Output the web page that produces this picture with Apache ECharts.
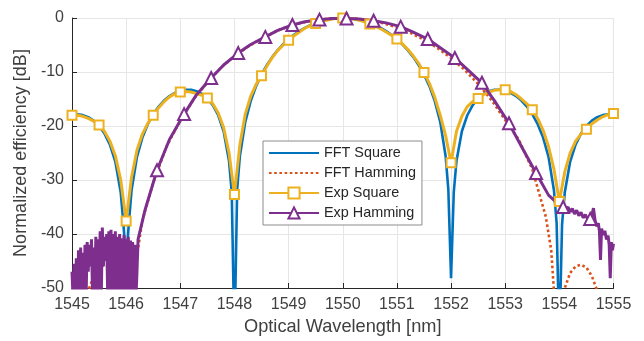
<!DOCTYPE html>
<html>
<head>
<meta charset="utf-8">
<script src="https://cdn.jsdelivr.net/npm/echarts@6/dist/echarts.min.js"></script>
<style>
  html, body { margin: 0; padding: 0; background: #fff; }
  #chart { width: 644px; height: 341px; }
</style>
</head>
<body>
<div id="chart"></div>
<script>
// values, [wavelength nm, dB]
const fftSquare = [
  [1545.0, -17.9], [1545.1, -17.83], [1545.2, -17.98], [1545.3, -18.37], [1545.4, -19.02],
  [1545.5, -20.0], [1545.6, -21.41], [1545.7, -23.45], [1545.8, -26.59], [1545.9, -32.3],
  [1545.95, -38.2], [1546.0, -45], [1546.05, -38], [1546.1, -31.9], [1546.2, -25.72],
  [1546.3, -22.15], [1546.4, -19.66], [1546.5, -17.81], [1546.6, -16.39], [1546.7, -15.3],
  [1546.8, -14.46], [1546.9, -13.86], [1547.0, -13.46], [1547.1, -13.28], [1547.2, -13.3],
  [1547.3, -13.55], [1547.4, -14.06], [1547.5, -14.89], [1547.6, -16.14], [1547.7, -18.01],
  [1547.8, -20.97], [1547.9, -26.5], [1547.95, -32.3], [1548.0, -60], [1548.05, -31.8],
  [1548.1, -25.6], [1548.2, -19.23], [1548.3, -15.39], [1548.4, -12.62], [1548.5, -10.45],
  [1548.6, -8.69], [1548.7, -7.2], [1548.8, -5.94], [1548.9, -4.86], [1549.0, -3.92],
  [1549.1, -3.11], [1549.2, -2.42], [1549.3, -1.83], [1549.4, -1.33], [1549.5, -0.91],
  [1549.6, -0.58], [1549.7, -0.32], [1549.8, -0.14], [1549.9, -0.04], [1550.0, 0],
  [1550.1, -0.04], [1550.2, -0.14], [1550.3, -0.32], [1550.4, -0.58], [1550.5, -0.91],
  [1550.6, -1.33], [1550.7, -1.83], [1550.8, -2.42], [1550.9, -3.11], [1551.0, -3.92],
  [1551.1, -4.86], [1551.2, -5.94], [1551.3, -7.2], [1551.4, -8.69], [1551.5, -10.45],
  [1551.6, -12.62], [1551.7, -15.39], [1551.8, -19.23], [1551.9, -25.6], [1551.95, -31.8],
  [1552.0, -48.2], [1552.05, -32.3], [1552.1, -26.5], [1552.2, -20.97], [1552.3, -18.01],
  [1552.4, -16.14], [1552.5, -14.89], [1552.6, -14.06], [1552.7, -13.55], [1552.8, -13.3],
  [1552.9, -13.28], [1553.0, -13.46], [1553.1, -13.86], [1553.2, -14.46], [1553.3, -15.3],
  [1553.4, -16.39], [1553.5, -17.81], [1553.6, -19.66], [1553.7, -22.15], [1553.8, -25.72],
  [1553.9, -31.9], [1553.95, -38], [1554.0, -60], [1554.05, -38.2], [1554.1, -32.3],
  [1554.2, -26.59], [1554.3, -23.45], [1554.4, -21.41], [1554.5, -20.0], [1554.6, -19.02],
  [1554.7, -18.37], [1554.8, -17.98], [1554.9, -17.83], [1555.0, -17.9]
];

const fftHamming = [
  [1545.0, -53], [1545.25, -60], [1545.3, -50.5], [1545.4, -47.8], [1545.5, -46.2],
  [1545.6, -45.7], [1545.7, -46.0], [1545.8, -47.2], [1545.9, -50.0], [1546.0, -70],
  [1546.1, -55], [1546.2, -44.0], [1546.3, -37.5], [1546.5, -30.5], [1546.75, -23.7],
  [1547.0, -19.0], [1547.25, -15.0], [1547.5, -11.9], [1547.75, -9.2], [1548.0, -7.1],
  [1548.25, -5.3], [1548.5, -3.85], [1548.75, -2.55], [1549.0, -1.5], [1549.25, -0.85],
  [1549.5, -0.4], [1549.75, -0.11], [1550.0, 0], [1550.25, -0.11], [1550.5, -0.43],
  [1550.75, -0.98], [1551.0, -1.75], [1551.25, -2.76], [1551.5, -4.03], [1551.75, -5.57],
  [1552.0, -7.41], [1552.25, -9.6], [1552.5, -12.2], [1552.75, -15.25], [1553.0, -18.9],
  [1553.25, -22.5], [1553.5, -28.0], [1553.75, -36.8], [1553.85, -43.0], [1553.9, -50.5],
  [1554.0, -70], [1554.1, -50.0], [1554.2, -47.2], [1554.3, -46.0], [1554.4, -45.7],
  [1554.5, -46.2], [1554.6, -47.8], [1554.7, -50.5], [1554.75, -60], [1555.0, -53]
];

const expSquare = [
  [1545.0, -18.0], [1545.1, -18.0], [1545.2, -18.2], [1545.3, -18.6], [1545.4, -19.1],
  [1545.5, -19.8], [1545.6, -21.0], [1545.7, -22.8], [1545.8, -25.5], [1545.9, -30.0],
  [1546.0, -37.6], [1546.1, -29.5], [1546.2, -24.5], [1546.3, -21.5], [1546.4, -19.5],
  [1546.5, -18.0], [1546.6, -16.6], [1546.7, -15.5], [1546.8, -14.6], [1546.9, -14.0],
  [1547.0, -13.7], [1547.1, -13.6], [1547.2, -13.7], [1547.3, -14.0], [1547.4, -14.3],
  [1547.5, -14.8], [1547.6, -15.9], [1547.7, -17.6], [1547.8, -20.3], [1547.9, -25.0],
  [1548.0, -32.7], [1548.1, -23.5], [1548.2, -17.8], [1548.3, -14.5], [1548.4, -12.3],
  [1548.5, -10.7], [1548.6, -8.9], [1548.7, -7.3], [1548.8, -6.0], [1548.9, -5.0],
  [1549.0, -4.1], [1549.1, -3.3], [1549.2, -2.6], [1549.3, -1.9], [1549.4, -1.4],
  [1549.5, -1.0], [1549.6, -0.7], [1549.7, -0.4], [1549.8, -0.2], [1549.9, -0.05],
  [1550.0, 0], [1550.1, -0.05], [1550.2, -0.2], [1550.3, -0.4], [1550.4, -0.7],
  [1550.5, -1.1], [1550.6, -1.5], [1550.7, -2.0], [1550.8, -2.6], [1550.9, -3.2],
  [1551.0, -3.9], [1551.1, -4.8], [1551.2, -5.8], [1551.3, -7.0], [1551.4, -8.4],
  [1551.5, -10.1], [1551.6, -12.1], [1551.7, -14.7], [1551.8, -18.0], [1551.9, -21.8],
  [1552.0, -26.8], [1552.1, -21.0], [1552.2, -18.2], [1552.3, -16.4], [1552.4, -15.5],
  [1552.5, -14.9], [1552.6, -14.2], [1552.7, -13.7], [1552.8, -13.4], [1552.9, -13.3],
  [1553.0, -13.3], [1553.1, -13.6], [1553.2, -14.2], [1553.3, -15.0], [1553.4, -15.9],
  [1553.5, -17.0], [1553.6, -18.6], [1553.7, -20.8], [1553.8, -23.8], [1553.9, -28.0],
  [1554.0, -34.0], [1554.1, -28.5], [1554.2, -25.0], [1554.3, -22.8], [1554.4, -21.5],
  [1554.5, -20.6], [1554.6, -19.6], [1554.7, -18.9], [1554.8, -18.3], [1554.9, -17.9],
  [1555.0, -17.7]
];
// a square marker sits on every 5th sample (every 0.5 nm)
const expSquareMarkStep = 5;

const expHamming = [
  [1545.0, -47], [1545.02, -52], [1545.04, -45.5], [1545.06, -52], [1545.08, -44.5],
  [1545.1, -52], [1545.12, -43], [1545.14, -52], [1545.16, -42.5], [1545.18, -52],
  [1545.2, -43.5], [1545.22, -52], [1545.24, -42], [1545.26, -52], [1545.28, -41.5],
  [1545.3, -47], [1545.32, -42], [1545.34, -46], [1545.36, -41], [1545.38, -52],
  [1545.4, -42.5], [1545.42, -52], [1545.44, -40.5], [1545.46, -52], [1545.48, -41],
  [1545.5, -52], [1545.52, -39.5], [1545.54, -52], [1545.56, -38.8], [1545.58, -46],
  [1545.6, -40.5], [1545.62, -45], [1545.64, -40], [1545.66, -52], [1545.68, -39.5],
  [1545.7, -52], [1545.72, -39.2], [1545.74, -52], [1545.76, -40], [1545.78, -52],
  [1545.8, -39.5], [1545.82, -52], [1545.84, -40.5], [1545.86, -52], [1545.88, -40],
  [1545.9, -52], [1545.92, -40.8], [1545.94, -52], [1545.96, -40.2], [1545.98, -52],
  [1546.0, -41], [1546.02, -52], [1546.04, -40.5], [1546.06, -52], [1546.08, -41.2],
  [1546.1, -52], [1546.12, -41.5], [1546.14, -52], [1546.16, -42], [1546.18, -52],
  [1546.2, -47], [1546.22, -41], [1546.35, -35.5],
  [1546.57, -28.2], [1546.8, -22.5], [1547.07, -17.8], [1547.3, -14.2], [1547.57, -11.1],
  [1547.8, -8.7], [1548.07, -6.5], [1548.3, -4.9], [1548.57, -3.5], [1548.8, -2.3],
  [1549.07, -1.3], [1549.3, -0.7], [1549.57, -0.3], [1549.8, -0.1], [1550.07, -0.1],
  [1550.3, -0.2], [1550.57, -0.5], [1550.8, -0.9], [1551.07, -1.6], [1551.3, -2.6],
  [1551.57, -3.9], [1551.8, -5.5], [1552.07, -7.4], [1552.3, -9.5], [1552.57, -12.0],
  [1552.8, -15.3], [1553.07, -19.5], [1553.3, -23.8], [1553.57, -28.7], [1553.8, -32.8],
  [1553.95, -34.2], [1554.07, -35.0], [1554.12, -35.4], [1554.16, -35.0], [1554.2, -35.9],
  [1554.24, -35.3], [1554.28, -36.3], [1554.32, -35.6], [1554.36, -36.6], [1554.4, -36.0],
  [1554.44, -37.0], [1554.48, -36.4], [1554.52, -37.2], [1554.57, -37.2], [1554.6, -36.5],
  [1554.63, -35.2], [1554.66, -37.5], [1554.69, -38.6], [1554.72, -38.0], [1554.74, -39.5],
  [1554.76, -44.8], [1554.78, -39.0], [1554.81, -40.2], [1554.84, -39.4], [1554.87, -41.0],
  [1554.9, -40.3], [1554.92, -42.0], [1554.94, -48.2], [1554.96, -41.5], [1554.98, -43.0],
  [1555.0, -41.8]
];
const expHammingMarks = [
  1546.57, 1547.07, 1547.57, 1548.07, 1548.57, 1549.07, 1549.57, 1550.07, 1550.57,
  1551.07, 1551.57, 1552.07, 1552.57, 1553.07, 1553.57, 1554.07, 1554.57
];

const seriesNames = ["FFT Square", "FFT Hamming", "Exp Square", "Exp Hamming"];
const xTicks = { min: 1545, max: 1555, step: 1 };
const yTicks = { min: -50, max: 0, step: 10 };

const font = "'Liberation Sans', Arial, Helvetica, sans-serif";
const axisInk = "#262626";
const labelInk = "#404040";

const chart = echarts.init(document.getElementById("chart"), null, { renderer: "canvas" });

const squareData = expSquare.map((p, i) =>
  i % expSquareMarkStep === 0 ? { value: p } : { value: p, symbol: "none" });
const hammingData = expHamming.map((p) =>
  expHammingMarks.includes(p[0]) ? { value: p } : { value: p, symbol: "none" });

chart.setOption({
  animation: false,
  backgroundColor: "#fff",
  grid: { left: 72, right: 30.5, top: 18, bottom: 53 },
  legend: {
    data: [
      { name: seriesNames[0], itemStyle: { opacity: 0 } },
      { name: seriesNames[1], itemStyle: { opacity: 0 } },
      { name: seriesNames[2] },
      { name: seriesNames[3] }
    ],
    orient: "vertical",
    left: 263,
    top: 141,
    itemWidth: 50,
    itemHeight: 14,
    itemGap: 6,
    padding: [5, 6, 5, 5],
    backgroundColor: "#fff",
    borderColor: "#8c8c8c",
    borderWidth: 1,
    selectedMode: false,
    textStyle: { fontFamily: font, fontSize: 14.4, color: axisInk }
  },
  xAxis: {
    type: "value",
    min: xTicks.min,
    max: xTicks.max,
    interval: xTicks.step,
    name: "Optical Wavelength [nm]",
    nameLocation: "middle",
    nameGap: 30,
    nameTextStyle: { fontFamily: font, fontSize: 18.2, color: labelInk },
    axisLine: { show: true, onZero: false, lineStyle: { color: axisInk, width: 1 } },
    axisTick: { show: true, inside: true, length: 5, lineStyle: { color: axisInk } },
    axisLabel: {
      fontFamily: font, fontSize: 16, color: labelInk, margin: 9,
      formatter: (v) => String(v)
    },
    splitLine: { show: true, lineStyle: { color: "#e6e6e6", width: 1 } }
  },
  yAxis: {
    type: "value",
    min: yTicks.min,
    max: yTicks.max,
    interval: yTicks.step,
    name: "Normalized efficiency [dB]",
    nameLocation: "middle",
    nameGap: 41,
    nameTextStyle: { fontFamily: font, fontSize: 18, color: labelInk },
    axisLine: { show: true, onZero: false, lineStyle: { color: axisInk, width: 1 } },
    axisTick: { show: true, inside: true, length: 5, lineStyle: { color: axisInk } },
    axisLabel: { fontFamily: font, fontSize: 16, color: labelInk, margin: 8 },
    splitLine: { show: true, lineStyle: { color: "#e6e6e6", width: 1 } }
  },
  series: [
    {
      name: seriesNames[0],
      type: "line",
      data: fftSquare,
      symbol: "none",
      clip: true,
      color: "#0072BD",
      lineStyle: { color: "#0072BD", width: 2.6 },
      emphasis: { disabled: true }
    },
    {
      name: seriesNames[1],
      type: "line",
      data: fftHamming,
      symbol: "none",
      clip: true,
      color: "#D95319",
      lineStyle: { color: "#D95319", width: 2.6, type: [2.6, 2.6] },
      emphasis: { disabled: true }
    },
    {
      name: seriesNames[2],
      type: "line",
      data: squareData,
      symbol: "emptyRect",
      symbolSize: 9,
      showSymbol: true,
      clip: true,
      color: "#EDB120",
      lineStyle: { color: "#EDB120", width: 3 },
      itemStyle: { color: "#EDB120", borderColor: "#EDB120", borderWidth: 2 },
      emphasis: { disabled: true }
    },
    {
      name: seriesNames[3],
      type: "line",
      data: hammingData,
      symbol: "emptyTriangle",
      symbolSize: 12,
      showSymbol: true,
      clip: true,
      color: "#7E2F8E",
      lineStyle: { color: "#7E2F8E", width: 3 },
      itemStyle: { color: "#7E2F8E", borderColor: "#7E2F8E", borderWidth: 2 },
      emphasis: { disabled: true }
    }
  ]
});
</script>
</body>
</html>
